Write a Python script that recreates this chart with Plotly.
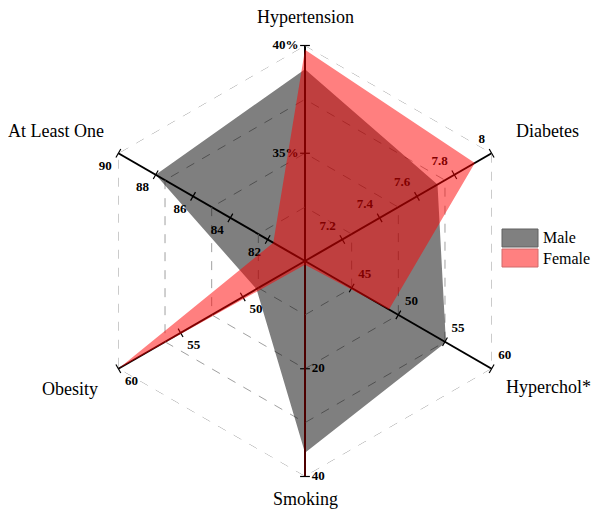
import plotly.graph_objects as go

# the page has an 8px body margin: figure coordinates = page coordinates - 8
OFF = 8
W, H = 600 - 2 * OFF, 520 - 2 * OFF
categories = ["Hypertension", "Diabetes", "Hyperchol*", "Smoking", "Obesity", "At Least One"]
axis_min = [30, 7.0, 40, 0, 45, 80]
axis_max = [40, 8.0, 60, 40, 60, 90]
male = [38.9, 7.71, 55.1, 35.6, 48.9, 88.0]
female = [39.8, 7.91, 49.0, 0.7, 60.0, 81.7]
tick_vals = [[35, 40], [7.2, 7.4, 7.6, 7.8, 8], [45, 50, 55, 60], [20, 40], [50, 55, 60], [82, 84, 86, 88, 90]]
tick_text = [["35%", "40%"], ["7.2", "7.4", "7.6", "7.8", "8"], ["45", "50", "55", "60"], ["20", "40"],
             ["50", "55", "60"], ["82", "84", "86", "88", "90"]]
series_names = ["Male", "Female"]
series_fill = ["rgba(0,0,0,0.5)", "rgba(255,0,0,0.5)"]
legend_fill = ["#808080", "#ff8080"]
legend_border = ["#606060", "#d06a6a"]

label_pos = ["middle left", "top left", "top right", "middle right", "bottom right", "bottom left"]
# category label centres, page pixels
label_xy = [(305, 17), (547, 131), (548, 387), (305, 499), (70, 389), (56, 131)]


def norm(i, v):
    return (v - axis_min[i]) / (axis_max[i] - axis_min[i])


serif = "Liberation Serif, Times New Roman, serif"
fig = go.Figure()

# tick labels (drawn beneath the polygons)
for i, cat in enumerate(categories):
    rs = [norm(i, v) for v in tick_vals[i]]
    fig.add_trace(go.Scatterpolar(
        r=rs, theta=[cat] * len(rs), mode="markers+text",
        text=tick_text[i], textposition=label_pos[i],
        textfont=dict(family=serif, size=13, color="black", weight="bold"),
        marker=dict(size=9, color="rgba(0,0,0,0)"),
        showlegend=False, hoverinfo="skip", cliponaxis=False))
    fig.add_trace(go.Scatterpolar(
        r=rs, theta=[cat] * len(rs), mode="markers",
        marker=dict(symbol="line-ew", size=7, angle=60 * i,
                    line=dict(width=1.2, color="black")),
        showlegend=False, hoverinfo="skip", cliponaxis=False))

# outer dashed ring
fig.add_trace(go.Scatterpolar(
    r=[1] * 7, theta=categories + [categories[0]], mode="lines",
    line=dict(color="#a0a0a0", width=1, dash="dash"),
    showlegend=False, hoverinfo="skip"))

vals = [male, female]
for k in range(2):
    rs = [norm(i, v) for i, v in enumerate(vals[k])]
    fig.add_trace(go.Scatterpolar(
        r=rs + [rs[0]], theta=categories + [categories[0]],
        fill="toself", fillcolor=series_fill[k], mode="lines",
        line=dict(width=0), name=series_names[k], showlegend=False))

# smoking spoke shows tinted in the reference
fig.add_trace(go.Scatterpolar(
    r=[0, 1], theta=[categories[3]] * 2, mode="lines",
    line=dict(color="rgba(150,0,0,0.8)", width=1.3),
    showlegend=False, hoverinfo="skip"))

cx, cy, R = 305 - OFF, 261 - OFF, 215.5
fig.update_layout(
    width=W, height=H,
    margin=dict(l=0, r=0, t=0, b=0),
    paper_bgcolor="white", plot_bgcolor="white",
    polar=dict(
        domain=dict(x=[(cx - R) / W, (cx + R) / W], y=[1 - (cy + R) / H, 1 - (cy - R) / H]),
        bgcolor="white", gridshape="linear",
        radialaxis=dict(range=[0, 1], tickvals=[0.25, 0.5, 0.75], showticklabels=False,
                        ticks="", showline=False, gridcolor="#a0a0a0", griddash="dash",
                        gridwidth=1, layer="below traces"),
        angularaxis=dict(direction="clockwise", rotation=90, showticklabels=False, ticks="",
                         showline=False, gridcolor="black", gridwidth=1.5, layer="below traces"),
    ),
    showlegend=False,
)
for (x, y), cat in zip(label_xy, categories):
    fig.add_annotation(x=(x - OFF) / W, y=1 - (y - OFF) / H, xref="paper", yref="paper", text=cat,
                       xanchor="center", yanchor="middle", showarrow=False,
                       font=dict(family=serif, size=18, color="black"))

# legend (manual)
for k in range(2):
    y0 = 229 + 20 * k - OFF
    fig.add_shape(type="rect", xref="paper", yref="paper",
                  x0=(502 - OFF) / W, x1=(538 - OFF) / W, y0=1 - y0 / H, y1=1 - (y0 + 18) / H,
                  fillcolor=legend_fill[k], line=dict(color=legend_border[k], width=1))
    fig.add_annotation(x=(541 - OFF) / W, y=1 - (y0 + 9) / H, xref="paper", yref="paper",
                       text=series_names[k], xanchor="left", yanchor="middle", showarrow=False,
                       font=dict(family=serif, size=16, color="black"))

fig.write_html("out.html")
